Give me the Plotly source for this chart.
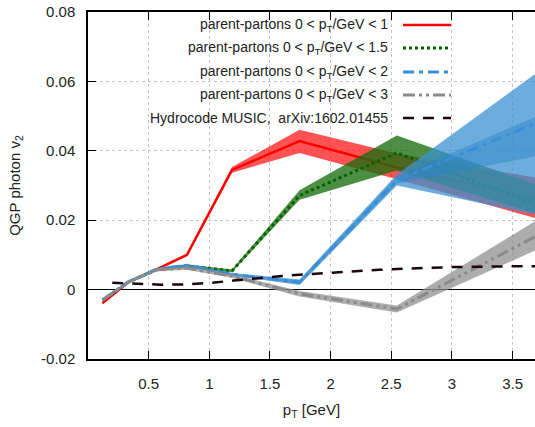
import plotly.graph_objects as go

# pT bins of the parent-parton calculations (GeV)
pt = [0.12, 0.335, 0.57, 0.816, 1.187, 1.744, 2.546, 3.70]

# 0 < pT < 1
red_v2 = [-0.0039, 0.0022, 0.0059, 0.0100, 0.0345, 0.0428, 0.0352, 0.0262]
red_lo = [-0.0042, 0.0019, 0.0056, 0.0096, 0.0337, 0.0394, 0.0318, 0.0205]
red_hi = [-0.0036, 0.0025, 0.0062, 0.0104, 0.0353, 0.0461, 0.0392, 0.0322]

# 0 < pT < 1.5
green_v2 = [-0.0030, 0.0022, 0.0058, 0.0068, 0.0054, 0.0271, 0.0394, 0.0245]
green_lo = [-0.0033, 0.0019, 0.0055, 0.0064, 0.0050, 0.0259, 0.0343, 0.0218]
green_hi = [-0.0027, 0.0025, 0.0061, 0.0072, 0.0058, 0.0286, 0.0444, 0.0302]

# 0 < pT < 2
blue_v2 = [-0.0030, 0.0023, 0.0059, 0.0070, 0.0044, 0.0021, 0.0315, 0.0480]
blue_lo = [-0.0034, 0.0019, 0.0055, 0.0066, 0.0040, 0.0013, 0.0300, 0.0215]
blue_hi = [-0.0026, 0.0027, 0.0063, 0.0074, 0.0048, 0.0029, 0.0332, 0.0625]
blue_lo2 = [-0.0032, 0.0021, 0.0057, 0.0068, 0.0042, 0.0016, 0.0305, 0.0385]
blue_hi2 = [-0.0028, 0.0025, 0.0061, 0.0072, 0.0046, 0.0026, 0.0326, 0.0500]

# 0 < pT < 3
gray_v2 = [-0.0030, 0.0022, 0.0057, 0.0062, 0.0039, -0.0012, -0.0056, 0.0155]
gray_lo = [-0.0034, 0.0018, 0.0053, 0.0057, 0.0034, -0.0020, -0.0066, 0.0115]
gray_hi = [-0.0026, 0.0026, 0.0061, 0.0067, 0.0044, -0.0004, -0.0046, 0.0200]

# Hydrocode MUSIC
music_pt = [0.2, 0.4, 0.6, 0.8, 1.0, 1.2, 1.4, 1.6, 1.8, 2.0, 2.2, 2.4, 2.6, 2.8, 3.0, 3.2, 3.4, 3.6, 3.8]
music_v2 = [0.0020, 0.0016, 0.0014, 0.0015, 0.0019, 0.0026, 0.0033, 0.0039, 0.0044, 0.0049,
            0.0053, 0.0057, 0.0060, 0.0063, 0.0065, 0.0066, 0.0067, 0.0068, 0.0068]

legend_labels = [
    "parent-partons 0 < p<sub>T</sub>/GeV < 1",
    "parent-partons 0 < p<sub>T</sub>/GeV < 1.5",
    "parent-partons 0 < p<sub>T</sub>/GeV < 2",
    "parent-partons 0 < p<sub>T</sub>/GeV < 3",
    "Hydrocode MUSIC,  arXiv:1602.01455",
]

xticks = [0.5, 1, 1.5, 2, 2.5, 3, 3.5]
yticks = [-0.02, 0, 0.02, 0.04, 0.06, 0.08]
yticklabels = ["-0.02", "0", "0.02", "0.04", "0.06", "0.08"]

FONT = "Liberation Sans, Arial, sans-serif"
W, H = 535, 427
L, T, B, R = 88, 12, 68, 0


def band(x, lo, hi, color):
    return go.Scatter(x=x + x[::-1], y=hi + lo[::-1], fill="toself", fillcolor=color,
                      line=dict(width=0), mode="lines", hoverinfo="skip", showlegend=False)


def curve(x, y, color, dash, width):
    return go.Scatter(x=x, y=y, mode="lines", showlegend=False,
                      line=dict(color=color, dash=dash, width=width))


styles = [
    ("#ff0000", "solid", 2.5),
    ("#006400", "dot", 3),
    ("#3a8ed6", "11px,5px,4px,5px", 3),
    ("#8a8a8a", "12px,4px,3px,4px,3px,4px", 3),
    ("#1c0612", "11px,9px", 2.5),
]

fig = go.Figure()
fig.add_trace(band(pt, red_lo, red_hi, "rgba(255,0,0,0.68)"))
fig.add_trace(curve(pt, red_v2, *styles[0]))
fig.add_trace(band(pt, green_lo, green_hi, "rgba(25,110,15,0.78)"))
fig.add_trace(curve(pt, green_v2, *styles[1]))
fig.add_trace(band(pt, blue_lo, blue_hi, "rgba(60,145,210,0.75)"))
fig.add_trace(band(pt, blue_lo2, blue_hi2, "rgba(40,130,200,0.45)"))
fig.add_trace(curve(pt, blue_v2, *styles[2]))
fig.add_trace(band(pt, gray_lo, gray_hi, "rgba(140,140,140,0.72)"))
fig.add_trace(curve(pt, gray_v2, *styles[3]))
fig.add_trace(curve(music_pt, music_v2, *styles[4]))

# legend drawn gnuplot-style: right-aligned text, sample line on the right
plot_w, plot_h = W - L - R, H - T - B
row_y = [25, 48, 72, 95, 118]
for label, yy, (col, dash, w) in zip(legend_labels, row_y, styles):
    yp = (H - B - yy) / plot_h
    fig.add_annotation(x=(390 - L) / plot_w, y=yp, xref="paper", yref="paper", text=label,
                       showarrow=False, xanchor="right", yanchor="middle",
                       font=dict(family=FONT, size=14, color="#222"))
    fig.add_shape(type="line", xref="paper", yref="paper",
                  x0=(403 - L) / plot_w, x1=(451 - L) / plot_w,
                  y0=yp, y1=yp, line=dict(color=col, dash=dash, width=w))

fig.update_layout(
    width=W, height=H,
    margin=dict(l=L, r=R, t=T, b=B),
    paper_bgcolor="white", plot_bgcolor="white",
    font=dict(family=FONT, size=15, color="#222"),
    showlegend=False,
)
fig.update_xaxes(
    range=[0, 3.685], tickvals=xticks, ticktext=[str(t) for t in xticks],
    ticks="inside", ticklen=8, tickcolor="#000", mirror="ticks", showline=True,
    linecolor="#000", linewidth=1.5, showgrid=True, gridcolor="#c4c4c4", griddash="dot",
    zeroline=False, ticklabelstandoff=10, automargin=False,
    title=dict(text="p<sub>T</sub> [GeV]", standoff=14, font=dict(size=15)),
)
fig.update_yaxes(
    range=[-0.02, 0.08], tickvals=yticks, ticktext=yticklabels,
    ticks="inside", ticklen=8, tickcolor="#000", showline=True, linecolor="#000",
    linewidth=1.5, showgrid=True, gridcolor="#c4c4c4", griddash="dot",
    zeroline=True, zerolinecolor="#000", zerolinewidth=1, ticklabelstandoff=8,
    automargin=False, ticklabeloverflow="allow",
    title=dict(text="QGP photon v<sub>2</sub>", standoff=17, font=dict(size=15)),
)

# drop the default page margin so the figure sits at the window corner
fig.write_html("out.html", config={"displayModeBar": False},
               post_script="document.body.style.margin='0';")
